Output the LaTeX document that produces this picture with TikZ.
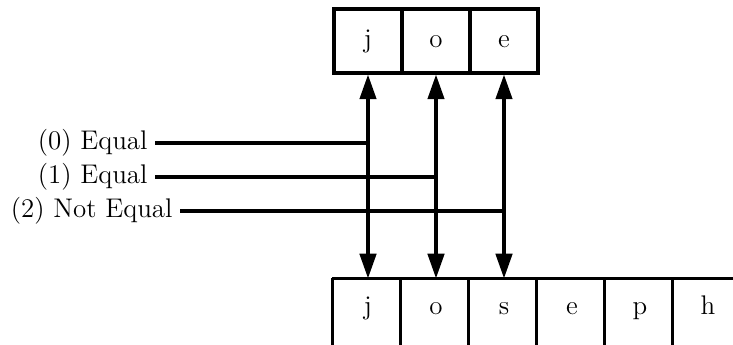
\documentclass[tikz,border=0pt]{standalone}
\usepackage{tikz}
\usetikzlibrary{arrows.meta}

\begin{document}
\begin{tikzpicture}[line width=1.4pt, font=\fontsize{11.5}{13.5}\selectfont,
  cell/.style={shape=rectangle, minimum width=1.02cm, text height=1.5ex, text depth=.25ex},
  tip/.tip={Triangle[length=10.5pt, width=7pt]}]
\useasboundingbox (0, 0) rectangle (10.995, 5.175);
\clip (0, 0) rectangle (10.995, 5.175);
% pattern
\node at (5.52, 4.56) [cell, draw, minimum height=0.96cm] (p1) {j};
\node at (6.54, 4.56) [cell, draw, minimum height=0.96cm] (p2) {o};
\node at (7.56, 4.56) [cell, draw, minimum height=0.96cm] (p3) {e};
% text
\node at (5.52, 0.555) [cell, minimum height=0.84cm] (t1) {j};
\node at (6.54, 0.555) [cell, minimum height=0.84cm] (t2) {o};
\node at (7.56, 0.555) [cell, minimum height=0.84cm] (t3) {s};
\node at (8.58, 0.555) [cell, minimum height=0.84cm] (t4) {e};
\node at (9.60, 0.555) [cell, minimum height=0.84cm] (t5) {p};
\node at (10.62, 0.555) [cell, minimum height=0.84cm] (t6) {h};
\foreach \c in {t1, t2, t3, t4, t5, t6}
  \draw (\c.north west) -- (\c.north east) (\c.north west) -- ++(0, -1);
% compare
\draw [tip-tip] (p1.south) to (t1.north);
\draw [tip-tip] (p2.south) to (t2.north);
\draw [tip-tip] (p3.south) to (t3.north);
% results
\node at (2.325, 3.03) [anchor=east, inner sep=2.5pt] (r0) {(0) Equal};
\node at (2.325, 2.52) [anchor=east, inner sep=2.5pt] (r1) {(1) Equal};
\node at (2.70, 2.01) [anchor=east, inner sep=2.5pt] (r2) {(2) Not Equal};
\draw (r0.east) to (r0.east -| p1.south);
\draw (r1.east) to (r1.east -| p2.south);
\draw (r2.east) to (r2.east -| p3.south);
\end{tikzpicture}
\end{document}
